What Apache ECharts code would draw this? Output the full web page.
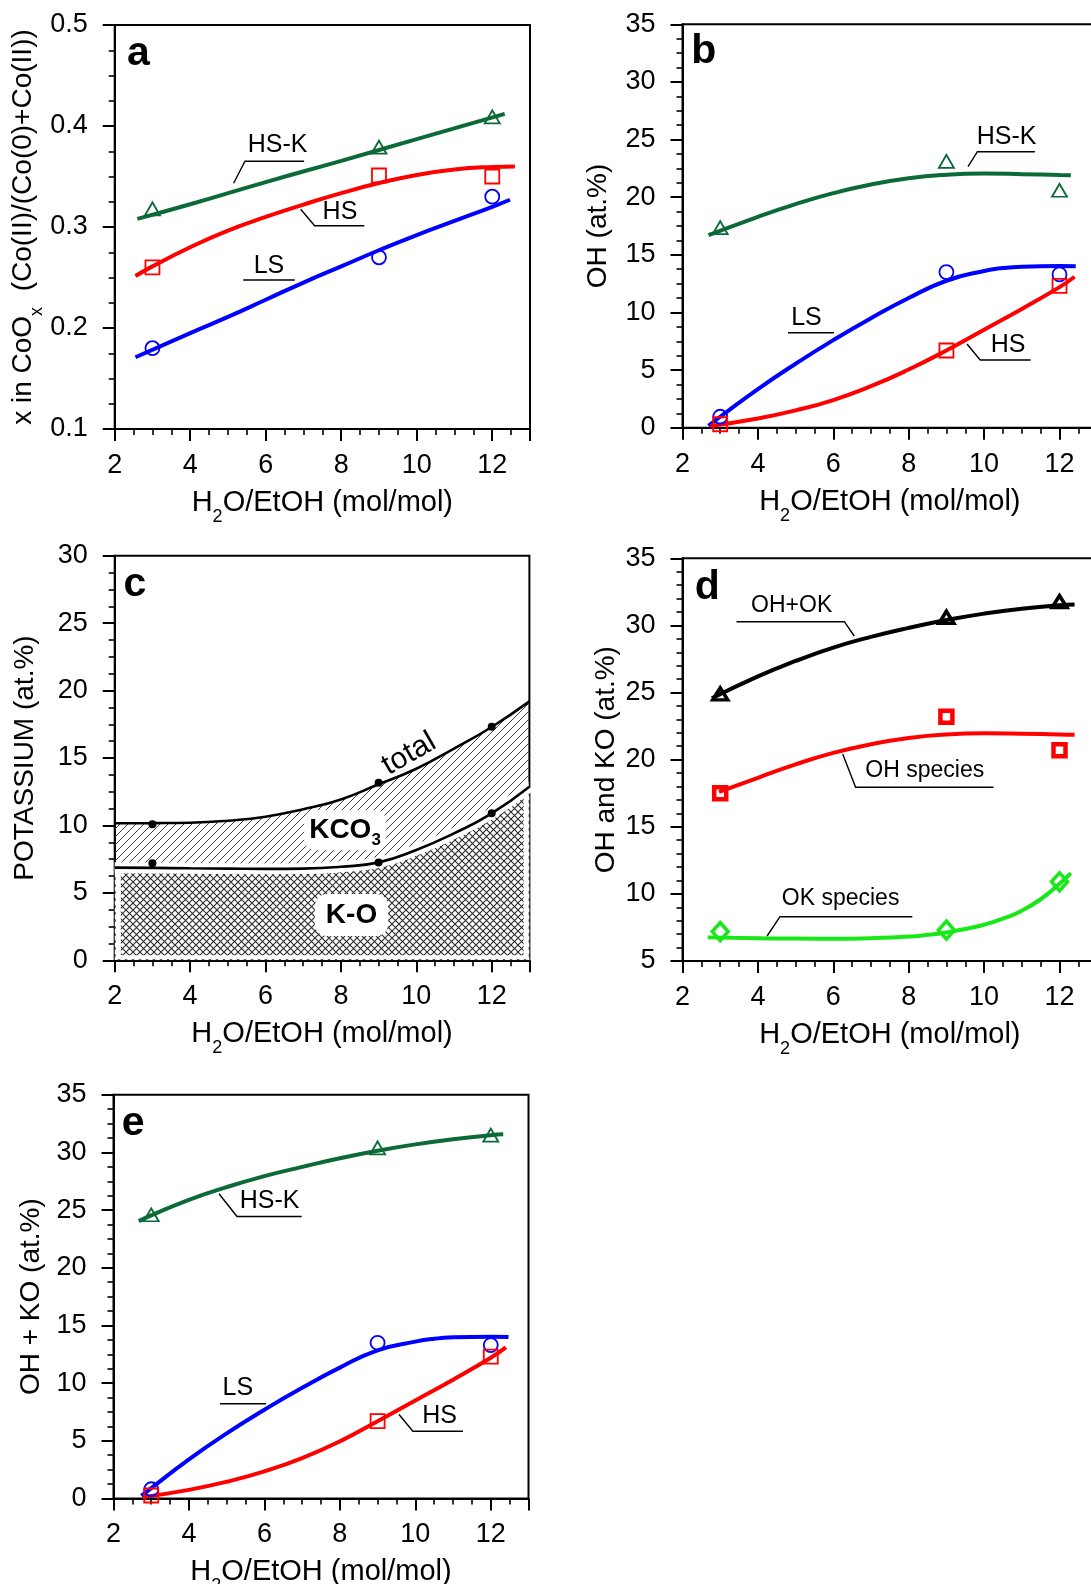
<!DOCTYPE html>
<html>
<head>
<meta charset="utf-8">
<script src="https://cdn.jsdelivr.net/npm/echarts@6/dist/echarts.min.js"></script>
<style>
html,body{margin:0;padding:0;background:#fff;}
#chart{width:1091px;height:1584px;}
</style>
</head>
<body>
<div id="chart"></div>
<script>
// ================= DATA =================
// x positions of measured samples (H2O/EtOH, mol/mol)
const xSamples = [3, 9, 12];
// axis ranges / tick intervals
const xAxisRange = [2, 13, 2];              // min, max, interval
const yRangeA = [0.1, 0.5, 0.1];
const yRangeB = [0, 35, 5];
const yRangeC = [0, 30, 5];
const yRangeD = [5, 35, 5];
const yRangeE = [0, 35, 5];

// ---- panel a : x in CoOx ----
const aHSK = [0.318, 0.379, 0.409];
const aHS  = [0.26, 0.351, 0.35];
const aLS  = [0.18, 0.27, 0.33];
const aHSKfitX = [2.6, 4, 6, 8, 10, 12.33];
const aHSKfitY = [0.308, 0.3225, 0.3445, 0.3655, 0.387, 0.412];
const aHSfitX  = [2.55, 3, 4, 5, 6, 7, 8, 9, 10, 11, 12, 12.6];
const aHSfitY  = [0.2515, 0.261, 0.280, 0.2965, 0.310, 0.3222, 0.3335, 0.3435, 0.3515, 0.357, 0.3595, 0.360];
const aLSfitX  = [2.55, 4, 5, 6, 7, 8, 9, 10, 11, 12, 12.47];
const aLSfitY  = [0.171, 0.195, 0.211, 0.228, 0.245, 0.261, 0.277, 0.292, 0.306, 0.320, 0.327];

// ---- panel b : OH (at.%) ----
const bHSK = [17.36, 23.1, 20.6];
const bLS  = [0.95, 13.5, 13.3];
const bHS  = [0.3, 6.7, 12.3];
const bHSKfitX = [2.69, 4, 5, 6, 7, 8, 9, 10, 11, 12, 12.3];
const bHSKfitY = [16.7, 18.3, 19.4, 20.35, 21.1, 21.65, 21.95, 22.05, 22.0, 21.92, 21.9];
const bLSfitX  = [2.69, 3, 4, 5, 6, 7, 8, 9, 10, 10.5, 11, 12, 12.43];
const bLSfitY  = [0.17, 0.95, 3.35, 5.55, 7.6, 9.5, 11.25, 12.75, 13.6, 13.85, 13.97, 14.02, 14.0];
const bHSfitX  = [2.74, 4, 5, 6, 7, 8, 9, 10, 11, 12, 12.4];
const bHSfitY  = [0.15, 0.8, 1.5, 2.4, 3.6, 5.05, 6.7, 8.5, 10.3, 12.2, 13.1];

// ---- panel c : potassium (at.%) ----
const cTotalPts = [10.08, 13.17, 17.32];
const cLowerPts = [7.19, 7.26, 10.9];
const cCurveX   = [2, 3, 4, 5, 6, 7, 8, 9, 10, 11, 12, 13];
const cTotalY   = [10.16, 10.17, 10.2, 10.35, 10.65, 11.2, 11.93, 13.05, 14.2, 15.7, 17.3, 19.2];
const cLowerY   = [6.87, 6.85, 6.82, 6.8, 6.78, 6.8, 6.94, 7.26, 8.18, 9.41, 10.9, 12.87];

// ---- panel d : OH and KO (at.%) ----
const dOHOK = [24.9, 30.6, 31.77];
const dOH   = [17.5, 23.2, 20.7];
const dOK   = [7.19, 7.3, 10.9];
const dOHOKfitX = [2.78, 4, 5, 6, 7, 8, 9, 10, 11, 12, 12.4];
const dOHOKfitY = [24.57, 26.2, 27.35, 28.35, 29.15, 29.82, 30.4, 30.88, 31.25, 31.5, 31.55];
const dOHfitX   = [2.97, 4, 5, 6, 7, 8, 9, 10, 11, 12, 12.4];
const dOHfitY   = [17.6, 18.65, 19.65, 20.5, 21.15, 21.62, 21.88, 21.96, 21.93, 21.88, 21.85];
const dOKfitX   = [2.67, 4, 5, 6, 7, 8, 8.5, 9, 9.5, 10, 10.5, 11, 11.5, 12, 12.3];
const dOKfitY   = [6.76, 6.69, 6.67, 6.66, 6.7, 6.82, 6.95, 7.13, 7.38, 7.7, 8.15, 8.75, 9.6, 10.75, 11.55];

// ---- panel e : OH + KO (at.%) ----
const eHSK = [24.6, 30.4, 31.5];
const eLS  = [0.8, 13.5, 13.3];
const eHS  = [0.26, 6.7, 12.3];
const eHSKfitX = [2.67, 3, 4, 5, 6, 7, 8, 9, 10, 11, 12, 12.33];
const eHSKfitY = [24.05, 24.55, 25.9, 27.0, 27.95, 28.75, 29.5, 30.15, 30.7, 31.15, 31.5, 31.57];
const eLSfitX  = [2.74, 3, 4, 5, 6, 7, 8, 9, 10, 10.5, 11, 12, 12.47];
const eLSfitY  = [0.23, 0.9, 3.4, 5.65, 7.7, 9.6, 11.35, 12.85, 13.6, 13.85, 13.97, 14.02, 14.0];
const eHSfitX  = [2.78, 4, 5, 6, 7, 8, 9, 10, 11, 12, 12.4];
const eHSfitY  = [0.12, 0.75, 1.45, 2.35, 3.5, 4.95, 6.7, 8.5, 10.3, 12.2, 13.1];

// ================= STYLE =================
const FONT = '"Liberation Sans", Arial, Helvetica, sans-serif';
const GREEN = '#0b6a37';
const RED = '#ff0000';
const BLUE = '#0000ff';
const LIME = '#18e818';

function pairs(xs, ys) { return xs.map((x, i) => [x, ys[i]]); }

function makeHatch() {
  const c = document.createElement('canvas');
  c.width = 8; c.height = 8;
  const g = c.getContext('2d');
  g.strokeStyle = '#3a3a3a'; g.lineWidth = 1;
  g.beginPath();
  g.moveTo(0, 8); g.lineTo(8, 0);
  g.moveTo(-2, 2); g.lineTo(2, -2);
  g.moveTo(6, 10); g.lineTo(10, 6);
  g.stroke();
  return c;
}
function makeCross() {
  const c = document.createElement('canvas');
  c.width = 7; c.height = 7;
  const g = c.getContext('2d');
  g.fillStyle = '#fff'; g.fillRect(0, 0, 7, 7);
  g.strokeStyle = '#2a2a2a'; g.lineWidth = 1.1;
  g.beginPath();
  g.moveTo(0, 7); g.lineTo(7, 0);
  g.moveTo(0, 0); g.lineTo(7, 7);
  g.stroke();
  return c;
}

const grids = [
  { left: 114.7, top: 25,     width: 415.3, height: 404 },
  { left: 682.5, top: 24.3,   width: 414.7, height: 403.4 },
  { left: 114.7, top: 555.7,  width: 414.7, height: 404.6 },
  { left: 682.5, top: 558.3,  width: 414.7, height: 402.7 },
  { left: 113.5, top: 1094.8, width: 415,   height: 403.7 }
].map(g => Object.assign(g, { show: true, borderColor: '#000', borderWidth: 2, backgroundColor: 'transparent',
                               containLabel: false, outerBoundsMode: 'none' }));

const XNAME = 'H{sub|2}O/EtOH (mol/mol)';
const subStyle = { fontSize: 18, lineHeight: 18, verticalAlign: 'bottom', fontFamily: FONT, color: '#000' };

function xAx(i) {
  return {
    gridIndex: i, type: 'value', min: xAxisRange[0], max: xAxisRange[1], interval: xAxisRange[2],
    axisLine: { show: true, onZero: false, lineStyle: { color: '#000', width: 2 } },
    axisTick: { show: true, length: 12, lineStyle: { color: '#000', width: 2 } },
    minorTick: { show: true, splitNumber: 4, length: 6, lineStyle: { color: '#000', width: 1.6 } },
    splitLine: { show: false },
    axisLabel: { fontSize: 27, color: '#000', fontFamily: FONT, margin: 23, showMaxLabel: false },
    name: XNAME, nameLocation: 'middle', nameGap: 41,
    nameTextStyle: { fontSize: 29, color: '#000', fontFamily: FONT, lineHeight: 46, rich: { sub: subStyle } }
  };
}
function yAx(i, r, split, name, gap, fmt, lh) {
  return {
    gridIndex: i, type: 'value', min: r[0], max: r[1], interval: r[2],
    axisLine: { show: true, onZero: false, lineStyle: { color: '#000', width: 2 } },
    axisTick: { show: true, length: 12, lineStyle: { color: '#000', width: 2 } },
    minorTick: { show: true, splitNumber: split, length: 6, lineStyle: { color: '#000', width: 1.6 } },
    splitLine: { show: false },
    axisLabel: { fontSize: 27, color: '#000', fontFamily: FONT, margin: 27, formatter: fmt },
    name: name, nameLocation: 'middle', nameGap: gap, nameRotate: 90,
    nameTextStyle: { fontSize: 28, color: '#000', fontFamily: FONT, lineHeight: lh || 30, rich: { sub: subStyle } }
  };
}

function fit(i, xs, ys, color, w, z) {
  return { type: 'line', xAxisIndex: i, yAxisIndex: i, data: pairs(xs, ys), smooth: 0.5, symbol: 'none',
           lineStyle: { color: color, width: w }, z: z || 3, silent: true, animation: false };
}
function pts(i, ys, symbol, color, size, bw, fill) {
  return { type: 'scatter', xAxisIndex: i, yAxisIndex: i, data: pairs(xSamples, ys), symbol: symbol,
           symbolSize: size, itemStyle: { color: fill || 'rgba(0,0,0,0)', borderColor: color, borderWidth: bw, opacity: 1 },
           z: 5, silent: true, animation: false };
}

const hatch = makeHatch();
const cross = makeCross();

const series = [
  // a
  fit(0, aHSKfitX, aHSKfitY, GREEN, 4), fit(0, aHSfitX, aHSfitY, RED, 4), fit(0, aLSfitX, aLSfitY, BLUE, 4),
  pts(0, aHSK, 'triangle', GREEN, [15, 13], 1.8), pts(0, aHS, 'rect', RED, 14, 1.8), pts(0, aLS, 'circle', BLUE, 14, 1.8),
  // b
  fit(1, bHSKfitX, bHSKfitY, GREEN, 4), fit(1, bLSfitX, bLSfitY, BLUE, 4), fit(1, bHSfitX, bHSfitY, RED, 4),
  pts(1, bHSK, 'triangle', GREEN, [15, 13], 1.8), pts(1, bLS, 'circle', BLUE, 14, 1.8), pts(1, bHS, 'rect', RED, 14, 1.8),
  // c
  { type: 'line', xAxisIndex: 2, yAxisIndex: 2, data: pairs(cCurveX, cTotalY), smooth: 0.5, symbol: 'none',
    lineStyle: { width: 0 }, areaStyle: { color: { image: hatch, repeat: 'repeat' }, opacity: 1 }, z: 1, silent: true },
  { type: 'line', xAxisIndex: 2, yAxisIndex: 2, data: pairs(cCurveX, cLowerY), smooth: 0.5, symbol: 'none',
    lineStyle: { width: 0 }, areaStyle: { color: { image: cross, repeat: 'repeat' }, opacity: 1 }, z: 1.5, silent: true },
  fit(2, cCurveX, cLowerY, '#fff', 11, 2.5),
  fit(2, cCurveX, cTotalY, '#000', 2.6, 3), fit(2, cCurveX, cLowerY, '#000', 2.6, 3),
  pts(2, cTotalPts, 'circle', '#000', 8, 0, '#000'), pts(2, cLowerPts, 'circle', '#000', 8, 0, '#000'),
  // d
  fit(3, dOHOKfitX, dOHOKfitY, '#000', 4), fit(3, dOHfitX, dOHfitY, RED, 4), fit(3, dOKfitX, dOKfitY, LIME, 4),
  pts(3, dOHOK, 'triangle', '#000', [15, 12], 3.5), pts(3, dOH, 'rect', RED, 12, 4.5), pts(3, dOK, 'diamond', LIME, [16, 18], 3.5),
  // e
  fit(4, eHSKfitX, eHSKfitY, GREEN, 4), fit(4, eLSfitX, eLSfitY, BLUE, 4), fit(4, eHSfitX, eHSfitY, RED, 4),
  pts(4, eHSK, 'triangle', GREEN, [15, 13], 1.8), pts(4, eLS, 'circle', BLUE, 14, 1.8), pts(4, eHS, 'rect', RED, 14, 1.8)
];

// ================= ANNOTATIONS (layout only) =================
const annSpec = [
  // text, left x, center y, leader polyline points, font size
  ['HS-K', 247.8, 145, [[233.6, 183.3], [245, 161.3], [304.1, 161.3]], 25],
  ['HS', 322.6, 211.7, [[300.7, 209.3], [314.6, 225.7], [364.3, 225.7]], 25],
  ['LS', 253.7, 265.7, [[243.3, 280], [294.8, 280]], 25],
  ['HS-K', 976.8, 137, [[968, 166.7], [977.4, 151.7], [1034.9, 151.7]], 25],
  ['LS', 791.2, 317.7, [[788, 332.7], [834, 332.7]], 25],
  ['HS', 990.7, 345.3, [[967, 344], [980.2, 360], [1030.7, 360]], 25],
  ['OH+OK', 751.1, 605.8, [[736.5, 621.7], [844.4, 621.7], [854.2, 636]], 23],
  ['OH species', 865.3, 771, [[842.7, 754], [855.6, 787.3], [993.5, 787.3]], 23],
  ['OK species', 781.8, 899, [[767.1, 936], [780, 916.7], [912.3, 916.7]], 23],
  ['HS-K', 239.8, 1201, [[219, 1193.8], [237, 1216.5], [301.7, 1216.5]], 25],
  ['LS', 222.5, 1387.8, [[220, 1403.8], [265.9, 1403.8]], 25],
  ['HS', 422.3, 1416, [[399, 1414.5], [412.9, 1431.2], [463, 1431.2]], 25]
];
const letterSpec = [['a', 126.9, 66.7], ['b', 691.2, 65], ['c', 123.4, 598], ['d', 694.7, 601], ['e', 121.7, 1136.3]];

const graphic = [];
annSpec.forEach(a => {
  graphic.push({ type: 'text', x: a[1], y: a[2], z: 10, silent: true,
    style: { text: a[0], fontSize: a[4], fontFamily: FONT, fill: '#000', align: 'left', verticalAlign: 'middle' } });
  graphic.push({ type: 'polyline', z: 10, silent: true, shape: { points: a[3] },
    style: { stroke: '#000', lineWidth: 1.4, fill: null } });
});
letterSpec.forEach(l => {
  graphic.push({ type: 'text', x: l[1], y: l[2] - 13, z: 10, silent: true,
    style: { text: l[0], fontSize: 41, fontWeight: 'bold', fontFamily: FONT, fill: '#000', align: 'left', verticalAlign: 'middle' } });
});
// white margins around the K-O cross-hatched region (panel c)
[[115.8, 866, 5, 93], [115.8, 955.3, 412.6, 4], [523.6, 782, 5, 177]].forEach(r => {
  graphic.push({ type: 'rect', z: 2, silent: true, shape: { x: r[0], y: r[1], width: r[2], height: r[3], r: 0 },
    style: { fill: '#fff' } });
});
graphic.push({ type: 'text', x: 409, y: 754, rotation: Math.PI / 6, z: 10, silent: true,
  style: { text: 'total', fontSize: 30, fontFamily: FONT, fill: '#000', align: 'center', verticalAlign: 'middle' } });
graphic.push({ type: 'text', x: 345, y: 830, z: 10, silent: true,
  style: { text: 'KCO{s|3}', fontSize: 28, fontWeight: 'bold', fontFamily: FONT, fill: '#000', lineHeight: 38,
    align: 'center', verticalAlign: 'middle', backgroundColor: '#fff', padding: [1, 5, 1, 5], borderRadius: 10,
    rich: { s: { fontSize: 17, lineHeight: 17, fontWeight: 'bold', fontFamily: FONT, fill: '#000', verticalAlign: 'bottom' } } } });
graphic.push({ type: 'text', x: 351.5, y: 915, z: 10, silent: true,
  style: { text: 'K-O', fontSize: 28, fontWeight: 'bold', fontFamily: FONT, fill: '#000',
    align: 'center', verticalAlign: 'middle', backgroundColor: '#fff', padding: [7, 11, 7, 11], borderRadius: 12 } });

const option = {
  animation: false,
  backgroundColor: '#fff',
  textStyle: { fontFamily: FONT },
  grid: grids,
  xAxis: [0, 1, 2, 3, 4].map(xAx),
  yAxis: [
    yAx(0, yRangeA, 4, 'x in CoO{sub|x}  (Co(II)/(Co(0)+Co(II))', 62, v => v.toFixed(1), 46),
    yAx(1, yRangeB, 4, 'OH (at.%)', 69.5),
    yAx(2, yRangeC, 4, 'POTASSIUM (at.%)', 74.7),
    yAx(3, yRangeD, 5, 'OH and KO (at.%)', 61.5),
    yAx(4, yRangeE, 4, 'OH + KO (at.%)', 67.5)
  ],
  series: series,
  graphic: graphic
};

const chart = echarts.init(document.getElementById('chart'), null, { renderer: 'canvas', width: 1091, height: 1584 });
chart.setOption(option);
</script>
</body>
</html>
